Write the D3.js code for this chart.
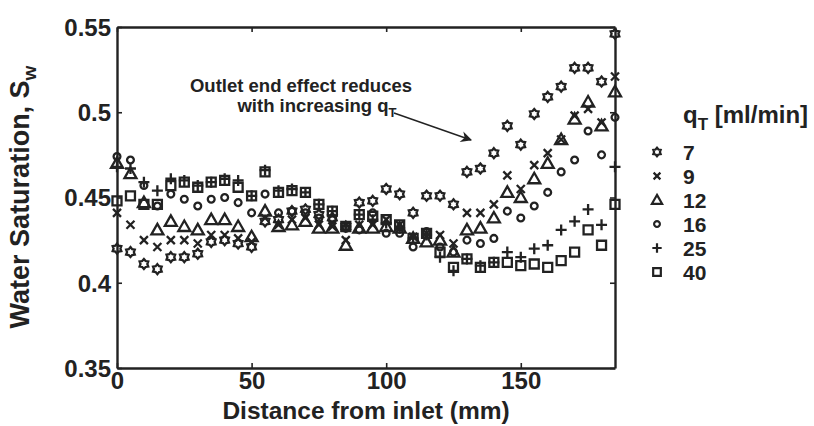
<!DOCTYPE html>
<html>
<head>
<meta charset="utf-8">
<script src="https://cdn.jsdelivr.net/npm/d3@7"></script>
<style>
  body { margin: 0; background: #fff; }
  svg text { font-family: "Liberation Sans", Arial, sans-serif; font-weight: bold; fill: #222; }
</style>
</head>
<body>
<svg id="chart"></svg>
<script>
// distance from inlet (mm)
const distance = [0, 5, 10, 15, 20, 25, 30, 35, 40, 45, 50, 55, 60, 65, 70, 75, 80, 85, 90, 95,
  100, 105, 110, 115, 120, 125, 130, 135, 140, 145, 150, 155, 160, 165, 170, 175, 180, 185];

// water saturation per flow rate q_T (ml/min)
const sw7 = [0.420, 0.418, 0.411, 0.408, 0.415, 0.415, 0.417, 0.424, 0.425, 0.423, 0.421, 0.436, 0.437, 0.442, 0.443, 0.440, 0.438, 0.433, 0.447, 0.448,
  0.455, 0.452, 0.441, 0.451, 0.451, 0.446, 0.465, 0.467, 0.476, 0.492, 0.481, 0.499, 0.509, 0.515, 0.526, 0.526, 0.518, 0.546];
const sw9 = [0.441, 0.434, 0.425, 0.421, 0.425, 0.425, 0.423, 0.428, 0.428, 0.426, 0.424, 0.438, 0.434, 0.437, 0.438, 0.434, 0.433, 0.425, 0.434, 0.434,
  0.437, 0.434, 0.427, 0.429, 0.428, 0.423, 0.441, 0.441, 0.446, 0.463, 0.455, 0.469, 0.476, 0.484, 0.498, 0.502, 0.494, 0.521];
const sw12 = [0.470, 0.464, 0.447, 0.431, 0.436, 0.433, 0.431, 0.437, 0.437, 0.433, 0.427, 0.442, 0.433, 0.434, 0.436, 0.432, 0.432, 0.422, 0.432, 0.432,
  0.433, 0.432, 0.426, 0.424, 0.425, 0.418, 0.431, 0.432, 0.438, 0.453, 0.450, 0.461, 0.470, 0.484, 0.496, 0.506, 0.492, 0.512];
const sw16 = [0.474, 0.472, 0.457, 0.445, 0.452, 0.449, 0.445, 0.449, 0.450, 0.447, 0.441, 0.452, 0.441, 0.442, 0.441, 0.438, 0.437, 0.432, 0.431, 0.441,
  0.429, 0.429, 0.421, 0.430, 0.421, 0.418, 0.425, 0.423, 0.426, 0.442, 0.438, 0.445, 0.453, 0.465, 0.472, 0.489, 0.475, 0.497];
const sw25 = [0.468, 0.467, 0.459, 0.454, 0.461, 0.460, 0.457, 0.459, 0.461, 0.460, 0.451, 0.466, 0.454, 0.455, 0.453, 0.446, 0.442, 0.433, 0.440, 0.437,
  0.435, 0.432, 0.426, 0.428, 0.415, 0.407, 0.414, 0.410, 0.412, 0.418, 0.415, 0.420, 0.422, 0.431, 0.436, 0.443, 0.434, 0.468];
const sw40 = [0.448, 0.451, 0.446, 0.446, 0.457, 0.459, 0.456, 0.459, 0.460, 0.456, 0.451, 0.465, 0.453, 0.454, 0.453, 0.446, 0.442, 0.433, 0.440, 0.439,
  0.437, 0.434, 0.426, 0.429, 0.418, 0.409, 0.414, 0.409, 0.412, 0.412, 0.410, 0.411, 0.409, 0.413, 0.418, 0.431, 0.422, 0.446];

const flowRates = ['7', '9', '12', '16', '25', '40'];
const markerKinds = ['hexagram', 'x', 'triangle', 'circle', 'plus', 'square'];
const xTicks = [0, 50, 100, 150];
const yTicks = [0.35, 0.4, 0.45, 0.5, 0.55];

const series = [sw7, sw9, sw12, sw16, sw25, sw40].map((vals, i) => ({
  label: flowRates[i],
  kind: markerKinds[i],
  points: vals.map((v, j) => ({ x: distance[j], y: v }))
}));

const width = 814, height = 426;
const margin = { top: 27, right: 199, bottom: 58, left: 117 };
const innerW = width - margin.left - margin.right;
const innerH = height - margin.top - margin.bottom;
const ink = '#222';

const svg = d3.select('#chart').attr('width', width).attr('height', height);
const chart = svg.append('g').attr('transform', `translate(${margin.left},${margin.top})`);

const xScale = d3.scaleLinear().domain([0, 185]).range([0, innerW]);
const yScale = d3.scaleLinear().domain([0.35, 0.55]).range([innerH, 0]);

// marker paths, roughly the matlab ones
function markerPath(kind, k0) {
  const m = k0 || 1;
  const p = d3.path();
  if (kind === 'hexagram') {
    const ro = 5 * m, ri = 3.4 * m;
    for (let k = 0; k < 12; k++) {
      const a = -Math.PI / 2 + k * Math.PI / 6;
      const r = k % 2 === 0 ? ro : ri;
      if (k === 0) p.moveTo(r * Math.cos(a), r * Math.sin(a));
      else p.lineTo(r * Math.cos(a), r * Math.sin(a));
    }
    p.closePath();
  } else if (kind === 'x') {
    const s = 4 * m;
    p.moveTo(-s, -s); p.lineTo(s, s);
    p.moveTo(-s, s); p.lineTo(s, -s);
  } else if (kind === 'triangle') {
    const s = 6 * m;
    p.moveTo(0, -s); p.lineTo(s, s * 0.75); p.lineTo(-s, s * 0.75); p.closePath();
  } else if (kind === 'circle') {
    p.arc(0, 0, 3.4 * m, 0, 2 * Math.PI);
  } else if (kind === 'plus') {
    const s = 5.5 * m;
    p.moveTo(-s, 0); p.lineTo(s, 0);
    p.moveTo(0, -s); p.lineTo(0, s);
  } else if (kind === 'square') {
    const s = 4.5 * m;
    p.rect(-s, -s, 2 * s, 2 * s);
  }
  return p.toString();
}

// axes box with inward ticks on all sides
const xAxisB = d3.axisBottom(xScale).tickValues(xTicks).tickSize(-5).tickPadding(3).tickSizeOuter(0);
const xAxisT = d3.axisTop(xScale).tickValues(xTicks).tickSize(-5).tickFormat('').tickSizeOuter(0);
const yAxisL = d3.axisLeft(yScale).tickValues(yTicks).tickSize(-5).tickPadding(6).tickFormat(d3.format('~g')).tickSizeOuter(0);
const yAxisR = d3.axisRight(yScale).tickValues(yTicks).tickSize(-5).tickFormat('').tickSizeOuter(0);

const gxB = chart.append('g').attr('transform', `translate(0,${innerH})`).call(xAxisB);
const gxT = chart.append('g').call(xAxisT);
const gyL = chart.append('g').call(yAxisL);
const gyR = chart.append('g').attr('transform', `translate(${innerW},0)`).call(yAxisR);

[gxB, gxT, gyL, gyR].forEach(g => {
  g.select('.domain').attr('stroke', ink).attr('stroke-width', 2.4);
  g.selectAll('.tick line').attr('stroke', ink).attr('stroke-width', 1.6);
  g.selectAll('.tick text').style('font-size', '24px').attr('fill', ink);
});
gxB.selectAll('.tick text').attr('dy', '0.75em');
gyL.selectAll('.tick text').attr('dy', '0.35em');

// scatter markers
series.forEach(s => {
  chart.append('g')
    .selectAll('path')
    .data(s.points)
    .join('path')
    .attr('transform', d => `translate(${xScale(d.x)},${yScale(d.y)})`)
    .attr('d', markerPath(s.kind))
    .attr('fill', 'none')
    .attr('stroke', ink)
    .attr('stroke-width', 2.3);
});

// axis labels
svg.append('text')
  .attr('x', 366)
  .attr('y', 419)
  .attr('text-anchor', 'middle')
  .style('font-size', '24.5px')
  .text('Distance from inlet (mm)');

const yl = svg.append('text')
  .attr('transform', `translate(29,197) rotate(-90)`)
  .attr('text-anchor', 'middle')
  .style('font-size', '27px');
yl.append('tspan').text('Water Saturation, S');
yl.append('tspan').attr('dy', 7).style('font-size', '19px').text('w');

// annotation with arrow
const note = svg.append('g');
note.append('text').attr('x', 301).attr('y', 92).attr('text-anchor', 'middle')
  .style('font-size', '18.5px').text('Outlet end effect reduces');
const n2 = note.append('text').attr('x', 317).attr('y', 112).attr('text-anchor', 'middle')
  .style('font-size', '18.5px');
n2.append('tspan').text('with increasing q');
n2.append('tspan').attr('dy', 5).style('font-size', '13px').text('T');

svg.append('defs').append('marker')
  .attr('id', 'arrowhead')
  .attr('viewBox', '0 0 10 10')
  .attr('refX', 9).attr('refY', 5)
  .attr('markerWidth', 11).attr('markerHeight', 8)
  .attr('orient', 'auto')
  .append('path').attr('d', 'M0,0 L10,5 L0,10 L3,5 Z').attr('fill', ink);
note.append('line')
  .attr('x1', 394).attr('y1', 113).attr('x2', 471).attr('y2', 140)
  .attr('stroke', ink).attr('stroke-width', 1.4)
  .attr('marker-end', 'url(#arrowhead)');

// legend
const legend = svg.append('g');
const lt = legend.append('text').attr('x', 683).attr('y', 123).style('font-size', '24px');
lt.append('tspan').text('q');
lt.append('tspan').attr('dy', 7).style('font-size', '17px').text('T');
lt.append('tspan').attr('dy', -7).text(' [ml/min]');

series.forEach((s, i) => {
  const cy = 152 + i * 24;
  legend.append('path')
    .attr('transform', `translate(657,${cy})`)
    .attr('d', markerPath(s.kind, 0.85))
    .attr('fill', 'none')
    .attr('stroke', ink)
    .attr('stroke-width', 2.2);
  legend.append('text')
    .attr('x', 683).attr('y', cy).attr('dy', '0.36em')
    .style('font-size', '21px')
    .text(s.label);
});
</script>
</body>
</html>
